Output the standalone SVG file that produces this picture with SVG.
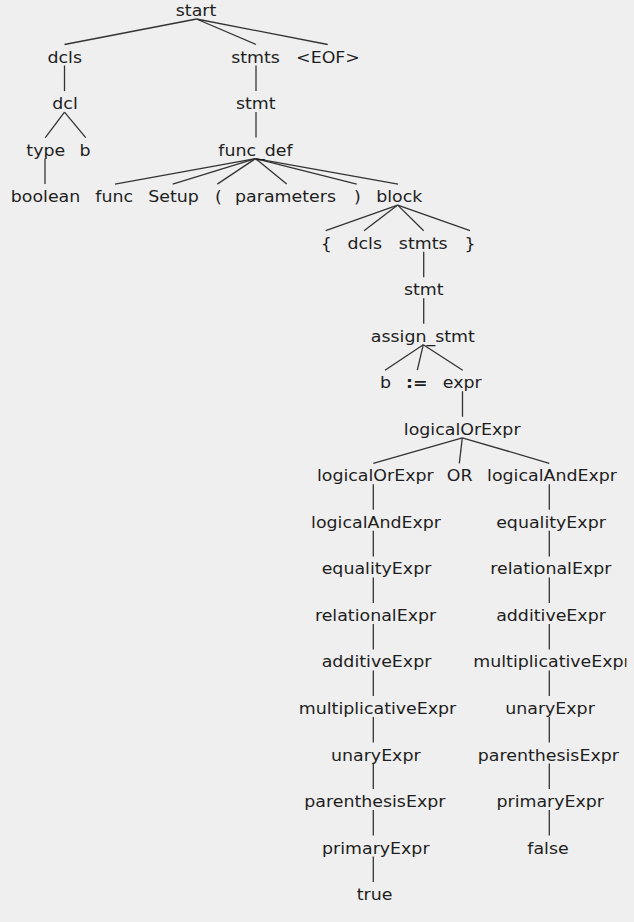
<svg xmlns="http://www.w3.org/2000/svg" width="634" height="922" viewBox="0 0 634 922">
<defs>
<style>
text{font-family:"DejaVu Sans","Liberation Sans",sans-serif;font-size:15px;fill:#1e1e1e;text-anchor:middle}
.b{font-weight:bold}
#edges line{stroke:#333;stroke-width:1.3;fill:none}
</style>
<clipPath id="edge"><rect x="0" y="0" width="626.5" height="922"/></clipPath>
</defs>
<rect x="0" y="0" width="634" height="922" fill="#efefef"/>
<g id="edges">
<line x1="196.5" y1="19" x2="64.5" y2="44.5"/>
<line x1="196.5" y1="19" x2="256" y2="44.5"/>
<line x1="196.5" y1="19" x2="327.7" y2="44.5"/>
<line x1="64.5" y1="65.5" x2="64.5" y2="91.1"/>
<line x1="256" y1="65.5" x2="256" y2="91.1"/>
<line x1="64.5" y1="112.1" x2="45.3" y2="137.6"/>
<line x1="64.5" y1="112.1" x2="85.7" y2="137.6"/>
<line x1="256" y1="112.1" x2="256" y2="137.6"/>
<line x1="45" y1="158.6" x2="45" y2="184.1"/>
<line x1="255.5" y1="158.6" x2="115" y2="184.1"/>
<line x1="255.5" y1="158.6" x2="172.7" y2="184.1"/>
<line x1="255.5" y1="158.6" x2="217.3" y2="184.1"/>
<line x1="255.5" y1="158.6" x2="286.7" y2="184.1"/>
<line x1="255.5" y1="158.6" x2="356.7" y2="184.1"/>
<line x1="255.5" y1="158.6" x2="398" y2="184.1"/>
<line x1="397.7" y1="205.1" x2="325.7" y2="230.7"/>
<line x1="397.7" y1="205.1" x2="364" y2="230.7"/>
<line x1="397.7" y1="205.1" x2="423.7" y2="230.7"/>
<line x1="397.7" y1="205.1" x2="470" y2="230.7"/>
<line x1="423.7" y1="251.7" x2="423.7" y2="277.2"/>
<line x1="423.7" y1="298.2" x2="423.7" y2="323.7"/>
<line x1="423.3" y1="344.7" x2="385" y2="370.2"/>
<line x1="423.3" y1="344.7" x2="417.3" y2="370.2"/>
<line x1="423.3" y1="344.7" x2="462.7" y2="370.2"/>
<line x1="462.5" y1="391.2" x2="462.5" y2="416.8"/>
<line x1="462.3" y1="437.8" x2="373.3" y2="463.3"/>
<line x1="462.3" y1="437.8" x2="459.3" y2="463.3"/>
<line x1="462.3" y1="437.8" x2="549.3" y2="463.3"/>
<line x1="373.3" y1="484.3" x2="373.3" y2="509.8"/>
<line x1="373.3" y1="530.8" x2="373.3" y2="556.4"/>
<line x1="373.3" y1="577.4" x2="373.3" y2="602.9"/>
<line x1="373.3" y1="623.9" x2="373.3" y2="649.4"/>
<line x1="373.3" y1="670.4" x2="373.3" y2="696"/>
<line x1="373.3" y1="717" x2="373.3" y2="742.5"/>
<line x1="373.3" y1="763.5" x2="373.3" y2="789"/>
<line x1="373.3" y1="810" x2="373.3" y2="835.5"/>
<line x1="373.3" y1="856.5" x2="373.3" y2="882.1"/>
<line x1="549.3" y1="484.3" x2="549.3" y2="509.8"/>
<line x1="549.3" y1="530.8" x2="549.3" y2="556.4"/>
<line x1="549.3" y1="577.4" x2="549.3" y2="602.9"/>
<line x1="549.3" y1="623.9" x2="549.3" y2="649.4"/>
<line x1="549.3" y1="670.4" x2="549.3" y2="696"/>
<line x1="549.3" y1="717" x2="549.3" y2="742.5"/>
<line x1="549.3" y1="763.5" x2="549.3" y2="789"/>
<line x1="549.3" y1="810" x2="549.3" y2="835.5"/>
</g>
<g id="n_start"><text transform="translate(196,16) scale(1.16,1)">start</text></g>
<g id="n_dcls"><text transform="translate(64.7,62.5) scale(1.16,1)">dcls</text></g>
<g id="n_stmts"><text transform="translate(255.5,62.5) scale(1.16,1)">stmts</text></g>
<g id="n_eof"><text transform="translate(328,62.5) scale(1.16,1)">&lt;EOF&gt;</text></g>
<g id="n_dcl"><text transform="translate(65,109.1) scale(1.16,1)">dcl</text></g>
<g id="n_stmt"><text transform="translate(255.7,109.1) scale(1.16,1)">stmt</text></g>
<g id="n_type"><text transform="translate(45.8,155.6) scale(1.16,1)">type</text></g>
<g id="n_b1"><text transform="translate(85,155.6) scale(1.16,1)">b</text></g>
<g id="n_func_def"><text transform="translate(255.5,155.6) scale(1.16,1)">func_def</text></g>
<g id="n_boolean"><text transform="translate(45.5,202.1) scale(1.16,1)">boolean</text></g>
<g id="n_func"><text transform="translate(114.2,202.1) scale(1.16,1)">func</text></g>
<g id="n_setup"><text transform="translate(173.5,202.1) scale(1.16,1)">Setup</text></g>
<g id="n_lparen"><text transform="translate(218.3,202.1) scale(1.16,1)">(</text></g>
<g id="n_parameters"><text transform="translate(285.5,202.1) scale(1.16,1)">parameters</text></g>
<g id="n_rparen"><text transform="translate(357.5,202.1) scale(1.16,1)">)</text></g>
<g id="n_block"><text transform="translate(399.3,202.1) scale(1.16,1)">block</text></g>
<g id="n_lbrace"><text transform="translate(326.3,248.6) scale(1.16,1)">{</text></g>
<g id="n_dcls2"><text transform="translate(364.7,248.6) scale(1.16,1)">dcls</text></g>
<g id="n_stmts2"><text transform="translate(423.2,248.6) scale(1.16,1)">stmts</text></g>
<g id="n_rbrace"><text transform="translate(470,248.6) scale(1.16,1)">}</text></g>
<g id="n_stmt2"><text transform="translate(423.8,295.2) scale(1.16,1)">stmt</text></g>
<g id="n_assign"><text transform="translate(422.8,341.7) scale(1.16,1)">assign_stmt</text></g>
<g id="n_b2"><text transform="translate(385.5,388.2) scale(1.16,1)">b</text></g>
<g id="n_assignop"><text class="b" transform="translate(416.8,388.2) scale(1.16,1)">:=</text></g>
<g id="n_expr"><text transform="translate(462.2,388.2) scale(1.16,1)">expr</text></g>
<g id="n_lor"><text transform="translate(462.2,434.8) scale(1.16,1)">logicalOrExpr</text></g>
<g id="n_lor2"><text transform="translate(375.3,481.3) scale(1.16,1)">logicalOrExpr</text></g>
<g id="n_or"><text transform="translate(459.7,481.3) scale(1.16,1)">OR</text></g>
<g id="n_land_r"><text transform="translate(552,481.3) scale(1.16,1)">logicalAndExpr</text></g>
<g id="n_land_l"><text transform="translate(376,527.8) scale(1.16,1)">logicalAndExpr</text></g>
<g id="n_eq_l"><text transform="translate(376.5,574.4) scale(1.16,1)">equalityExpr</text></g>
<g id="n_rel_l"><text transform="translate(375.5,620.9) scale(1.16,1)">relationalExpr</text></g>
<g id="n_add_l"><text transform="translate(376.5,667.4) scale(1.16,1)">additiveExpr</text></g>
<g id="n_mul_l"><text transform="translate(377.5,714) scale(1.16,1)">multiplicativeExpr</text></g>
<g id="n_un_l"><text transform="translate(375.8,760.5) scale(1.16,1)">unaryExpr</text></g>
<g id="n_par_l"><text transform="translate(374.8,807) scale(1.16,1)">parenthesisExpr</text></g>
<g id="n_prim_l"><text transform="translate(375.8,853.5) scale(1.16,1)">primaryExpr</text></g>
<g id="n_true"><text transform="translate(374.5,900.1) scale(1.16,1)">true</text></g>
<g id="n_eq_r"><text transform="translate(551,527.8) scale(1.16,1)">equalityExpr</text></g>
<g id="n_rel_r"><text transform="translate(550.8,574.4) scale(1.16,1)">relationalExpr</text></g>
<g id="n_add_r"><text transform="translate(551,620.9) scale(1.16,1)">additiveExpr</text></g>
<g id="n_mul_r" clip-path="url(#edge)"><text transform="translate(552,667.4) scale(1.16,1)">multiplicativeExpr</text></g>
<g id="n_un_r"><text transform="translate(550,714) scale(1.16,1)">unaryExpr</text></g>
<g id="n_par_r"><text transform="translate(548.3,760.5) scale(1.16,1)">parenthesisExpr</text></g>
<g id="n_prim_r"><text transform="translate(550.2,807) scale(1.16,1)">primaryExpr</text></g>
<g id="n_false"><text transform="translate(548,853.5) scale(1.16,1)">false</text></g>
</svg>
